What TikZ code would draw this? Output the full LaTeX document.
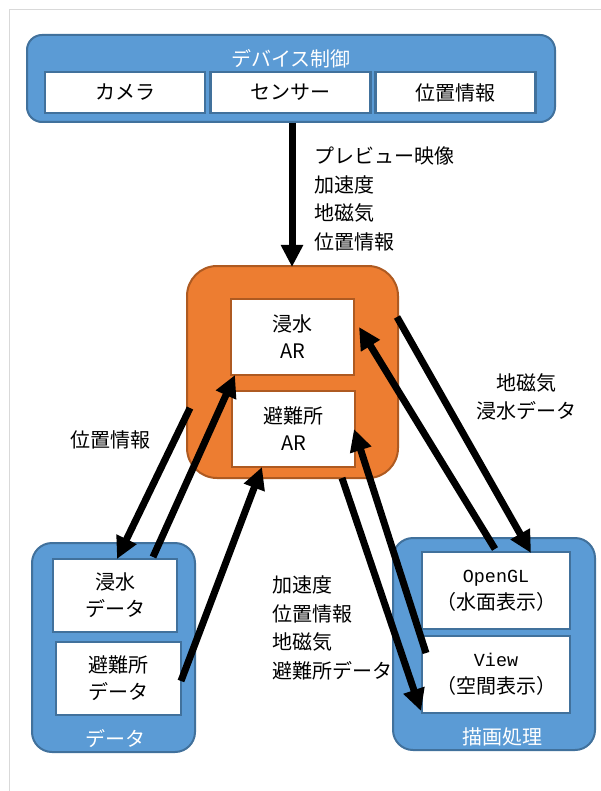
\documentclass[tikz,border=0pt]{standalone}
\usepackage{fontspec}
\setmainfont{Noto Sans CJK JP}
\newfontfamily\monofont{Liberation Mono}[Scale=0.92]
\usetikzlibrary{arrows.meta}
\definecolor{bluefill}{HTML}{5B9BD5}
\definecolor{blueline}{HTML}{41719C}
\definecolor{orfill}{HTML}{ED7D31}
\definecolor{orline}{HTML}{AE5A21}
\definecolor{framegray}{HTML}{D9D9D9}
\begin{document}
\begin{tikzpicture}[x=1pt,y=-1pt,
  every node/.style={inner sep=0pt, outer sep=0pt, font=\fontsize{20}{27}\selectfont},
  bluebox/.style={draw=blueline, fill=bluefill, line width=2pt, rounded corners=20pt},
  orbox/.style={draw=orline, fill=orfill, line width=2pt, rounded corners=30pt},
  wbox/.style={draw=blueline, fill=white, line width=2.5pt, align=center},
  wobox/.style={draw=orline, fill=white, line width=2.5pt, align=center},
  title/.style={text=white},
  lbl/.style={align=left, anchor=north west, font=\fontsize{20}{28.5}\selectfont},
  arr/.style={line width=7pt, -{Triangle[length=22pt,width=21pt]}, shorten >=0pt}
]
\useasboundingbox (0,0) rectangle (601,791);
\fill[white] (0,0) rectangle (601,791);
\draw[framegray, line width=1pt] (601,10) -- (9.5,10) -- (9.5,791);

% device control
\node[bluebox, rounded corners=15pt, minimum width=528pt, minimum height=87pt] (dev) at (291,78.5) {};
\node[title] (devt) at (291,59) {デバイス制御};
\node[wbox, minimum width=160pt, minimum height=41pt] (cam) at (125,92.5) {カメラ};
\node[wbox, minimum width=160pt, minimum height=41pt] (sen) at (290.5,92.5) {センサー};
\node[wbox, minimum width=160pt, minimum height=41pt] (pos) at (455.5,92.5) {位置情報};

% AR
\node[orbox, minimum width=211pt, minimum height=212pt] (ar) at (292.5,372) {};
\node[wobox, minimum width=123pt, minimum height=76pt] (far) at (292.5,337) {浸水\\AR};
\node[wobox, minimum width=123pt, minimum height=76pt] (sar) at (293.5,429) {避難所\\AR};

% data
\node[bluebox, minimum width=163pt, minimum height=209pt] (data) at (113.5,647.5) {};
\node[wbox, minimum width=124pt, minimum height=73pt] (fdata) at (115,595.5) {浸水\\データ};
\node[wbox, minimum width=125pt, minimum height=73pt] (sdata) at (118.5,678.5) {避難所\\データ};
\node[title] (datat) at (115,739) {データ};

% drawing
\node[bluebox, minimum width=202pt, minimum height=212pt] (draw) at (494,644) {};
\node[wbox, minimum width=148pt, minimum height=77pt] (gl) at (496,590.5) {{\monofont OpenGL}\\（水面表示）};
\node[wbox, minimum width=148pt, minimum height=77pt] (view) at (496,674.5) {{\monofont View}\\（空間表示）};
\node[title] (drawt) at (502,737) {描画処理};

% coordinates
\coordinate (t1) at (292,123);
\coordinate (t2) at (292,267);
\coordinate (a1) at (190,408);
\coordinate (a2) at (117,559);
\coordinate (b1) at (153,557);
\coordinate (b2) at (235,375);
\coordinate (c1) at (181,681);
\coordinate (c2) at (262,467);
\coordinate (d1) at (397,317);
\coordinate (d2) at (531,553);
\coordinate (e1) at (495,549);
\coordinate (e2) at (359,327);
\coordinate (f1) at (426,653);
\coordinate (f2) at (354,429);
\coordinate (g1) at (342,478);
\coordinate (g2) at (421,711);

\draw[arr] (t1) -- (t2);
\draw[arr] (a1) -- (a2);
\draw[arr] (b1) -- (b2);
\draw[arr] (c1) -- (c2);
\draw[arr] (d1) -- (d2);
\draw[arr] (e1) -- (e2);
\draw[arr] (f1) -- (f2);
\draw[arr] (g1) -- (g2);

% labels
\node[lbl] (l1) at (314,147) {プレビュー映像\\加速度\\地磁気\\位置情報};
\node[align=center, font=\fontsize{20}{28}\selectfont] (l2) at (526,397) {地磁気\\浸水データ};
\node (l3) at (110,440) {位置情報};
\node[lbl] (l4) at (272,576) {加速度\\位置情報\\地磁気\\避難所データ};
\end{tikzpicture}
\end{document}
